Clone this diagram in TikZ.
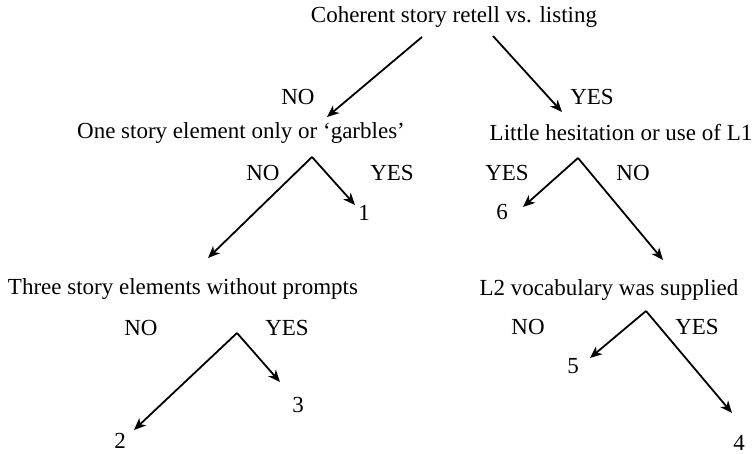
\documentclass[tikz,border=0pt]{standalone}
\usepackage{fontspec}
\setmainfont{Liberation Serif}
\usetikzlibrary{arrows.meta}
\tikzset{
  question/.style={
    font = \fontsize{23}{27}\selectfont,
    inner sep = 0
  },
  answer/.style={
    question
  },
  outcome/.style={
    question
  },
  branch/.style={
    line width = 1.8pt,
    arrows = {-Stealth[length=12pt, width=10pt, inset=3.5pt]}
  }
}

\begin{document}
\begin{tikzpicture}[x=1pt, y=-1pt]
    \useasboundingbox (0,0) rectangle (755,454);
    % questions
    \node[question] (coherent) at (454,17) {Coherent story retell vs. listing};
    \node[question] (garbles) at (241,133) {One story element only or `garbles'};
    \node[question] (hesitation) at (621,133) {Little hesitation or use of L1};
    \node[question] (prompts) at (183,289) {Three story elements without prompts};
    \node[question] (vocab) at (609,290) {L2 vocabulary was supplied};
    % branch points and arrow tips
    \coordinate (coherentno) at (422,37);
    \coordinate (coherentyes) at (493,36);
    \coordinate (tipgarbles) at (327,117);
    \coordinate (tiphesitation) at (562,112);
    \coordinate (forkgarbles) at (312,157);
    \coordinate (tipprompts) at (208,258);
    \coordinate (tipone) at (355,205);
    \coordinate (forkhesitation) at (578,158);
    \coordinate (tipsix) at (523,207);
    \coordinate (tipvocab) at (663,260);
    \coordinate (forkprompts) at (237,333);
    \coordinate (tiptwo) at (134,430);
    \coordinate (tipthree) at (280,382);
    \coordinate (forkvocab) at (646,311);
    \coordinate (tipfive) at (590,358);
    \coordinate (tipfour) at (732,413);
    % answers
    \node[answer] (no0) at (298,97) {NO};
    \node[answer] (yes0) at (592,97) {YES};
    \node[answer] (no1) at (263,173) {NO};
    \node[answer] (yes1) at (392,173) {YES};
    \node[answer] (yes2) at (507,173) {YES};
    \node[answer] (no2) at (633,173) {NO};
    \node[answer] (no3) at (141,328) {NO};
    \node[answer] (yes3) at (287,328) {YES};
    \node[answer] (no4) at (528,327) {NO};
    \node[answer] (yes4) at (697,327) {YES};
    % outcomes
    \node[outcome] (one) at (364,213) {1};
    \node[outcome] (six) at (502,212) {6};
    \node[outcome] (three) at (298,405) {3};
    \node[outcome] (two) at (120,441) {2};
    \node[outcome] (five) at (573,366) {5};
    \node[outcome] (four) at (739,443) {4};
    % branches
    \draw[branch] (coherentno) -- (tipgarbles);
    \draw[branch] (coherentyes) -- (tiphesitation);
    \draw[branch] (forkgarbles) -- (tipprompts);
    \draw[branch] (forkgarbles) -- (tipone);
    \draw[branch] (forkhesitation) -- (tipsix);
    \draw[branch] (forkhesitation) -- (tipvocab);
    \draw[branch] (forkprompts) -- (tiptwo);
    \draw[branch] (forkprompts) -- (tipthree);
    \draw[branch] (forkvocab) -- (tipfive);
    \draw[branch] (forkvocab) -- (tipfour);
\end{tikzpicture}
\end{document}
